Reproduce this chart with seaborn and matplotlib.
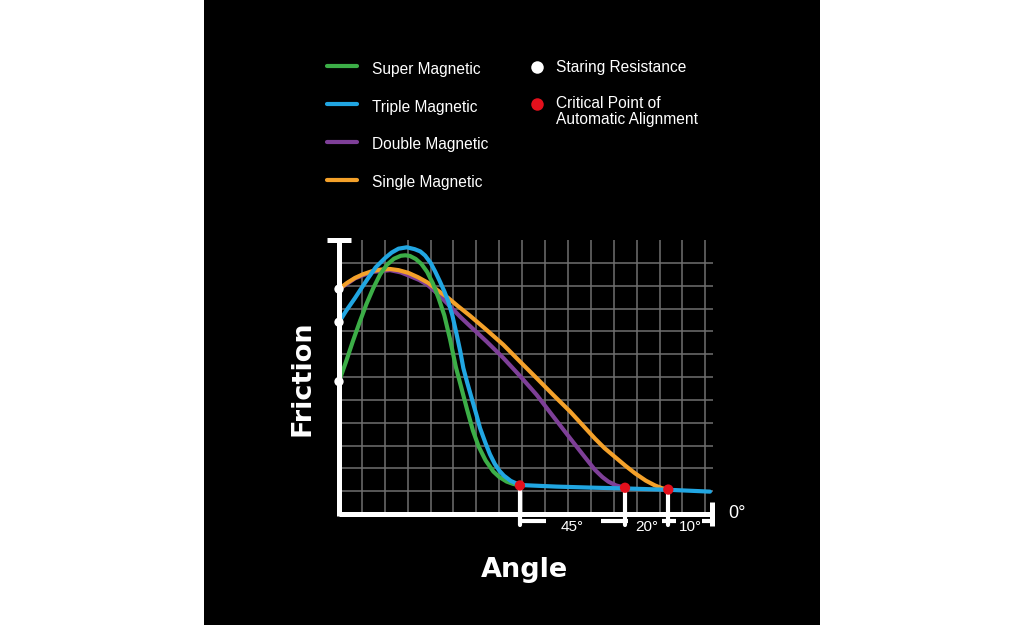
import numpy as np
import pandas as pd
import matplotlib.pyplot as plt
import seaborn as sns
from matplotlib.lines import Line2D
from matplotlib.patches import Rectangle

W, H = 1024, 625

# curve samples, in grid cells (angle runs left -> right to 0 deg)
super_x = [0.0, 0.3, 0.6, 0.9, 1.2, 1.5, 1.8, 2.1, 2.4, 2.7, 2.9, 3.1, 3.35, 3.6, 3.85,
           4.1, 4.35, 4.6, 4.85, 5.1, 5.35, 5.6, 5.85, 6.1, 6.4, 6.74, 7.0, 7.32, 7.6, 7.9]
super_y = [5.8, 6.65, 7.55, 8.4, 9.2, 9.9, 10.5, 10.92, 11.18, 11.31, 11.33, 11.3, 11.17,
           10.95, 10.6, 10.1, 9.45, 8.7, 7.65, 6.45, 5.5, 4.55, 3.65, 2.95, 2.35, 1.86,
           1.62, 1.42, 1.32, 1.25]

triple_x = [0.0, 0.3, 0.7, 1.0, 1.28, 1.6, 2.0, 2.3, 2.6, 2.96, 3.3, 3.55, 3.76, 4.0,
            4.2, 4.4, 4.6, 4.77, 4.95, 5.14, 5.3, 5.43, 5.6, 5.8, 6.0, 6.16, 6.4, 6.59,
            6.8, 7.0, 7.2, 7.5, 7.9, 9.5, 11.2, 12.5, 14.4, 16.2]
triple_y = [8.4, 8.88, 9.46, 9.92, 10.34, 10.8, 11.2, 11.45, 11.62, 11.68, 11.6, 11.5,
            11.32, 11.0, 10.62, 10.2, 9.75, 9.31, 8.7, 7.85, 7.1, 6.39, 5.75, 5.05, 4.35,
            3.76, 3.1, 2.62, 2.2, 1.9, 1.68, 1.45, 1.27, 1.2, 1.15, 1.12, 1.06, 0.98]

double_x = [0.0, 0.7, 1.43, 2.23, 2.7, 3.1, 3.5, 3.85, 4.19, 4.55, 4.92, 5.3, 5.7, 6.45,
            7.18, 7.9, 8.63, 9.35, 10.09, 10.65, 11.18, 11.5, 11.76, 12.1, 12.49]
double_y = [9.84, 10.32, 10.6, 10.68, 10.58, 10.42, 10.25, 10.05, 9.75, 9.4, 9.02, 8.63,
            8.25, 7.55, 6.83, 6.05, 5.22, 4.28, 3.32, 2.6, 1.93, 1.62, 1.42, 1.25, 1.15]

single_x = [0.0, 0.35, 0.7, 1.05, 1.43, 1.8, 2.23, 2.6, 3.03, 3.45, 3.9, 4.3, 4.77, 5.2,
            5.7, 6.4, 7.18, 7.9, 8.63, 9.35, 10.09, 10.65, 11.18, 11.6, 12.05, 12.5, 12.93,
            13.4, 13.8, 14.1, 14.38]
single_y = [9.85, 10.12, 10.34, 10.5, 10.63, 10.7, 10.73, 10.68, 10.56, 10.37, 10.12, 9.8,
            9.46, 9.1, 8.7, 8.1, 7.41, 6.68, 5.95, 5.22, 4.49, 3.88, 3.3, 2.88, 2.5, 2.12,
            1.78, 1.46, 1.25, 1.13, 1.07]

legend_names = ['Super Magnetic', 'Triple Magnetic', 'Double Magnetic', 'Single Magnetic']
colors = {'Super Magnetic': '#3cae47', 'Triple Magnetic': '#21a6e2',
          'Double Magnetic': '#7e3f98', 'Single Magnetic': '#f4a12a'}
draw_order = ['Double Magnetic', 'Single Magnetic', 'Super Magnetic', 'Triple Magnetic']

angle_labels = ['45°', '20°', '10°']
end_label = '0°'

df = pd.concat([
    pd.DataFrame({'angle': super_x, 'friction': super_y, 'type': 'Super Magnetic'}),
    pd.DataFrame({'angle': triple_x, 'friction': triple_y, 'type': 'Triple Magnetic'}),
    pd.DataFrame({'angle': double_x, 'friction': double_y, 'type': 'Double Magnetic'}),
    pd.DataFrame({'angle': single_x, 'friction': single_y, 'type': 'Single Magnetic'}),
], ignore_index=True)

# white dots: starting resistance, red dots: critical point of alignment
start_pts = [(super_x[0], super_y[0]), (triple_x[0], triple_y[0]), (single_x[0], single_y[0])]
crit_pts = [(super_x[-1], super_y[-1]), (double_x[-1], double_y[-1]), (single_x[-1], single_y[-1])]

sns.set_theme(style='darkgrid', rc={'axes.facecolor': 'black', 'grid.color': '#707070',
                                    'grid.linewidth': 1.1})

fig = plt.figure(figsize=(W / 100, H / 100), dpi=100, facecolor='white')
fig.patches.append(Rectangle((204 / W, 0), (820 - 204) / W, 1, transform=fig.transFigure,
                             facecolor='black', edgecolor='none', zorder=-1))

ax = fig.add_axes([339 / W, (H - 514) / H, (713.4 - 339) / W, 274 / H])
sns.lineplot(data=df, x='angle', y='friction', hue='type', hue_order=draw_order,
             palette=colors, linewidth=3, estimator=None, sort=False, legend=False, ax=ax)
for ln in ax.get_lines():
    ln.set_solid_capstyle('round')
    ln.set_solid_joinstyle('round')

ax.set_xlim(0, 16.35)
ax.set_ylim(0, 12)
ax.set_xticks(np.arange(0, 17))
ax.set_yticks(np.arange(0, 12))
ax.tick_params(length=0, labelbottom=False, labelleft=False)
ax.set_xlabel('')
ax.set_ylabel('')
ax.set_axisbelow(True)
for s in ax.spines.values():
    s.set_visible(False)

# axis bars
bar = dict(color='white', lw=3.6, solid_capstyle='butt', clip_on=False, zorder=3)
ax.plot([0, 0], [-0.1, 12.0], **bar)
ax.plot([-0.52, 0.52], [12.0, 12.0], **bar)
ax.plot([0, 16.29], [0, 0], **bar)
ax.plot([16.29, 16.29], [-0.53, 0.54], **bar)

# dimension ticks under the critical points
for cx, cy in crit_pts:
    ax.plot([cx, cx], [cy, -0.5], color='white', lw=3, clip_on=False, zorder=3)
for x0, x1 in [(7.9, 9.04), (11.44, 12.62), (14.1, 14.72), (15.85, 16.29)]:
    ax.plot([x0, x1], [-0.29, -0.29], color='white', lw=3, solid_capstyle='butt',
            clip_on=False, zorder=3)
bounds = [p[0] for p in crit_pts] + [16.29]
for i, lab in enumerate(angle_labels):
    ax.text((bounds[i] + bounds[i + 1]) / 2, -0.58, lab, color='white', fontsize=11,
            family='Liberation Sans', ha='center', va='center', clip_on=False)
ax.text(17.0, 0.0, end_label, color='white', fontsize=13, family='Liberation Sans',
        ha='left', va='center', clip_on=False)

ax.scatter([p[0] for p in start_pts], [p[1] for p in start_pts], s=45, color='white',
           edgecolor='none', zorder=4, clip_on=False)
ax.scatter([p[0] for p in crit_pts], [p[1] for p in crit_pts], s=55, color='#e3101c',
           edgecolor='none', zorder=5, clip_on=False)


def fx(x):
    return x / W


def fy(y):
    return 1 - y / H


fig.text(fx(303), fy(378), 'Friction', rotation=90, color='white', fontsize=19.5,
         fontweight='bold', family='DejaVu Sans', ha='center', va='center')
fig.text(fx(524), fy(577), 'Angle', color='white', fontsize=19.5, fontweight='bold',
         family='DejaVu Sans', ha='center', va='baseline')

# legend, drawn by hand to keep the two-column layout
line_rows = [66, 104, 142, 180]
text_rows = [74, 111.7, 149, 186.7]
for name, ly, ty in zip(legend_names, line_rows, text_rows):
    fig.add_artist(Line2D([fx(327), fx(357)], [fy(ly), fy(ly)], color=colors[name], lw=3,
                          transform=fig.transFigure))
    fig.text(fx(372), fy(ty), name, color='white', fontsize=11.2, family='Liberation Sans',
             va='baseline')

fig.add_artist(Line2D([fx(537)], [fy(67)], marker='o', markersize=9, color='white',
                      markeredgewidth=0, transform=fig.transFigure))
fig.add_artist(Line2D([fx(537)], [fy(104)], marker='o', markersize=9, color='#e3101c',
                      markeredgewidth=0, transform=fig.transFigure))
fig.text(fx(556), fy(71.7), 'Staring Resistance', color='white', fontsize=11.2,
         family='Liberation Sans', va='baseline')
fig.text(fx(556), fy(108.3), 'Critical Point of', color='white', fontsize=11.2,
         family='Liberation Sans', va='baseline')
fig.text(fx(556), fy(124), 'Automatic Alignment', color='white', fontsize=11.2,
         family='Liberation Sans', va='baseline')

fig.savefig('out.png', dpi=100, facecolor='white')
